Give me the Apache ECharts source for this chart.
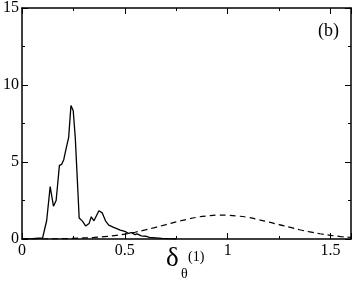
<!DOCTYPE html>
<html>
<head>
<meta charset="utf-8">
<script src="https://cdn.jsdelivr.net/npm/echarts@6/dist/echarts.min.js"></script>
<style>
  html, body { margin: 0; padding: 0; background: #fff; }
  #chart { width: 354px; height: 283px; }
</style>
</head>
<body>
<div id="chart"></div>
<script>
// solid curve: distribution of delta_theta^(1)
const solidX = [0.00, 0.05, 0.08, 0.10, 0.107, 0.12, 0.137, 0.153, 0.166, 0.182, 0.193, 0.203, 0.215, 0.227,
  0.238, 0.249, 0.259, 0.27, 0.278, 0.294, 0.31, 0.326, 0.337, 0.35, 0.358, 0.374, 0.39, 0.406, 0.422,
  0.446, 0.478, 0.50, 0.52, 0.53, 0.55, 0.56, 0.58, 0.60, 0.62, 0.65, 0.68, 0.71, 0.75]
const solidY = [0.00, 0.02, 0.05, 0.06, 0.12, 1.2, 3.4, 2.13, 2.5, 4.78, 4.85, 5.15, 5.9, 6.6,
  8.66, 8.34, 6.6, 3.6, 1.36, 1.16, 0.84, 1.0, 1.44, 1.18, 1.1, 1.83, 1.7, 1.18, 0.9,
  0.75, 0.58, 0.5, 0.36, 0.42, 0.28, 0.33, 0.2, 0.18, 0.1, 0.07, 0.04, 0.02, 0.00]

// dashed curve: broad hump centred near 1
const dashedX = [0.00, 0.05, 0.10, 0.15, 0.20, 0.25, 0.30, 0.35, 0.40, 0.45, 0.50, 0.55, 0.60, 0.65, 0.70,
  0.75, 0.80, 0.85, 0.90, 0.95, 1.00, 1.05, 1.10, 1.15, 1.20, 1.25, 1.30, 1.35, 1.40, 1.45, 1.50, 1.55, 1.60]
const dashedY = [0.00, 0.00, 0.00, 0.01, 0.02, 0.04, 0.07, 0.10, 0.15, 0.22, 0.32, 0.44, 0.59, 0.76, 0.93,
  1.11, 1.27, 1.41, 1.50, 1.55, 1.54, 1.49, 1.40, 1.26, 1.10, 0.93, 0.77, 0.60, 0.46, 0.34, 0.24, 0.16, 0.11]

const xTicks = [0, 0.5, 1, 1.5]
const yTicks = [0, 5, 10, 15]

const font = 'Liberation Serif'
const chart = echarts.init(document.getElementById('chart'), null, { renderer: 'canvas' })

function pairs(xs, ys) {
  return xs.map((x, i) => [x, ys[i]])
}

const axisCommon = {
  axisLine: { show: true, onZero: false, lineStyle: { color: '#000', width: 1.5 } },
  axisTick: { show: true, inside: true, length: 6, lineStyle: { color: '#000', width: 1 } },
  minorTick: { show: true, splitNumber: 2, length: 3, lineStyle: { color: '#000', width: 1 } },
  splitLine: { show: false },
  minorSplitLine: { show: false }
}

chart.setOption({
  animation: false,
  grid: { left: 20.5, right: 1, top: 7, bottom: 44, containLabel: false },
  xAxis: [
    Object.assign({
      type: 'value', min: 0, max: 1.6, interval: 0.5, position: 'bottom',
      axisLabel: {
        show: true, margin: 4, color: '#000', fontFamily: font, fontSize: 16,
        formatter: v => (xTicks.indexOf(v) >= 0 ? String(v) : '')
      }
    }, axisCommon),
    Object.assign({
      type: 'value', min: 0, max: 1.6, interval: 0.5, position: 'top',
      axisLabel: { show: false }
    }, axisCommon)
  ],
  yAxis: [
    Object.assign({
      type: 'value', min: 0, max: 15, interval: 5, position: 'left',
      axisLabel: {
        show: true, margin: 3, color: '#000', fontFamily: font, fontSize: 16,
        formatter: v => (yTicks.indexOf(v) >= 0 ? String(v) : '')
      }
    }, axisCommon),
    Object.assign({
      type: 'value', min: 0, max: 15, interval: 5, position: 'right',
      axisLabel: { show: false }
    }, axisCommon)
  ],
  series: [
    {
      type: 'line', xAxisIndex: 0, yAxisIndex: 0, showSymbol: false, symbol: 'none',
      data: pairs(solidX, solidY),
      lineStyle: { color: '#000', width: 1.3 }
    },
    {
      type: 'line', xAxisIndex: 0, yAxisIndex: 0, showSymbol: false, symbol: 'none',
      data: pairs(dashedX, dashedY), smooth: true,
      lineStyle: { color: '#000', width: 1.2, type: [6, 4] }
    }
  ],
  graphic: [
    { type: 'text', left: 318, top: 22, style: { text: '(b)', font: '18px "Liberation Serif"', fill: '#000' } },
    { type: 'text', left: 166, top: 245, style: { text: 'δ', font: '27px "Liberation Serif"', fill: '#000' } },
    { type: 'text', left: 181, top: 267, style: { text: 'θ', font: '14px "Liberation Serif"', fill: '#000' } },
    { type: 'text', left: 188, top: 250, style: { text: '(1)', font: '14px "Liberation Serif"', fill: '#000' } }
  ]
})
</script>
</body>
</html>
